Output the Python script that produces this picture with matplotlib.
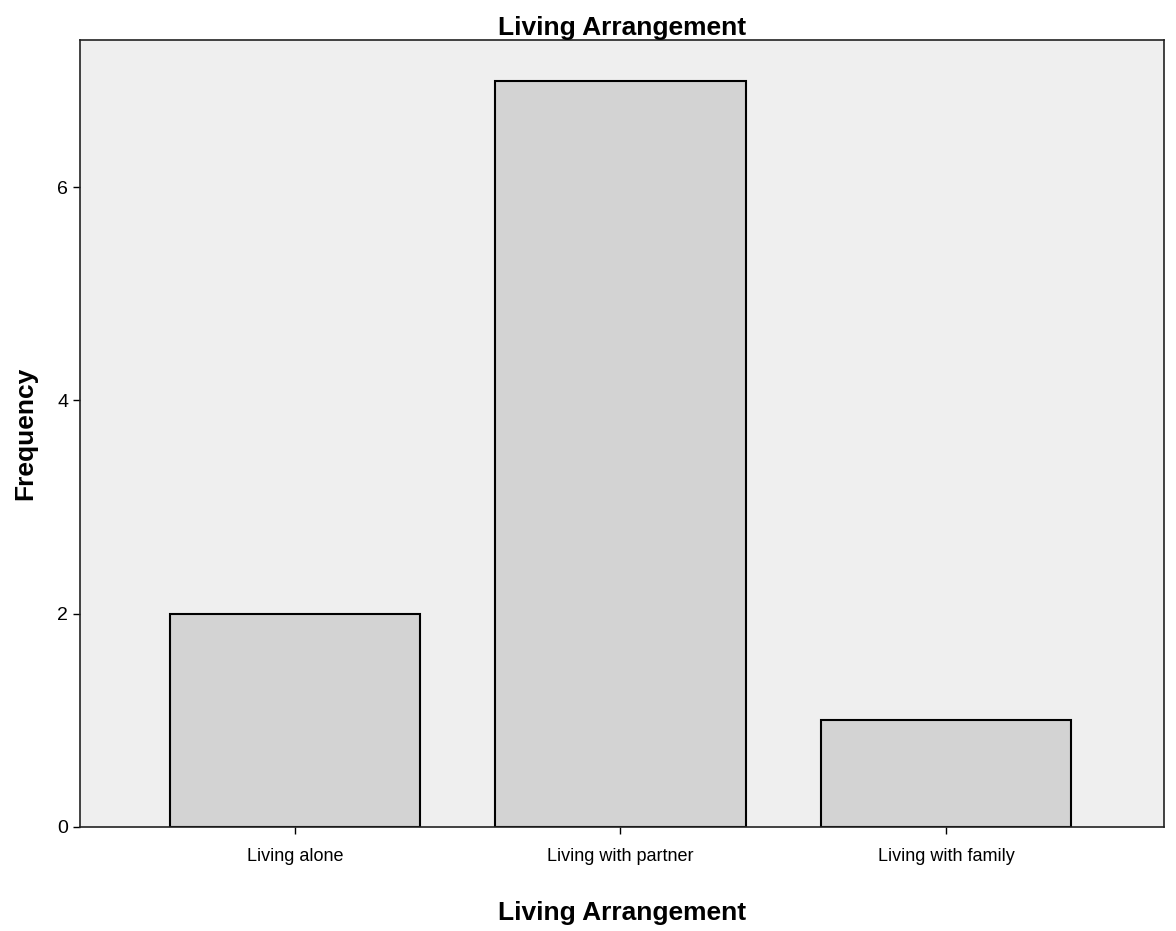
import numpy as np
import matplotlib
matplotlib.use("Agg")
import matplotlib.pyplot as plt

plt.rcParams['font.family'] = ['Liberation Sans', 'DejaVu Sans']

# data
categories = ["Living alone", "Living with partner", "Living with family"]
frequency = [2, 7, 1]
yticks = [0, 2, 4, 6]

fig = plt.figure(figsize=(11.76, 9.31), dpi=100)
fig.patch.set_facecolor("white")
ax = fig.add_axes([0.068, 0.112, 0.922, 0.845])
ax.set_facecolor("#efefef")

x = np.arange(len(categories))
ax.bar(x, frequency, width=0.77, color="#d3d3d3", edgecolor="black", linewidth=1.5)

ax.set_xlim(-0.66, 2.67)
ax.set_ylim(0, 7.38)
ax.set_xticks(x)
ax.set_xticklabels(categories, fontsize=13)
ax.set_yticks(yticks)
ax.set_yticklabels([str(t) for t in yticks], fontsize=14)

for s in ax.spines.values():
    s.set_linewidth(1.2)
    s.set_color("#222222")

ax.tick_params(axis="both", direction="out", length=5, width=1, colors="black")
ax.tick_params(axis="x", pad=10)

ax.set_title("Living Arrangement", fontsize=19, fontweight="bold", pad=2)
ax.set_xlabel("Living Arrangement", fontsize=19, fontweight="bold", labelpad=26)
ax.set_ylabel("Frequency", fontsize=19, fontweight="bold", labelpad=14)

fig.savefig("out.png", dpi=100)
